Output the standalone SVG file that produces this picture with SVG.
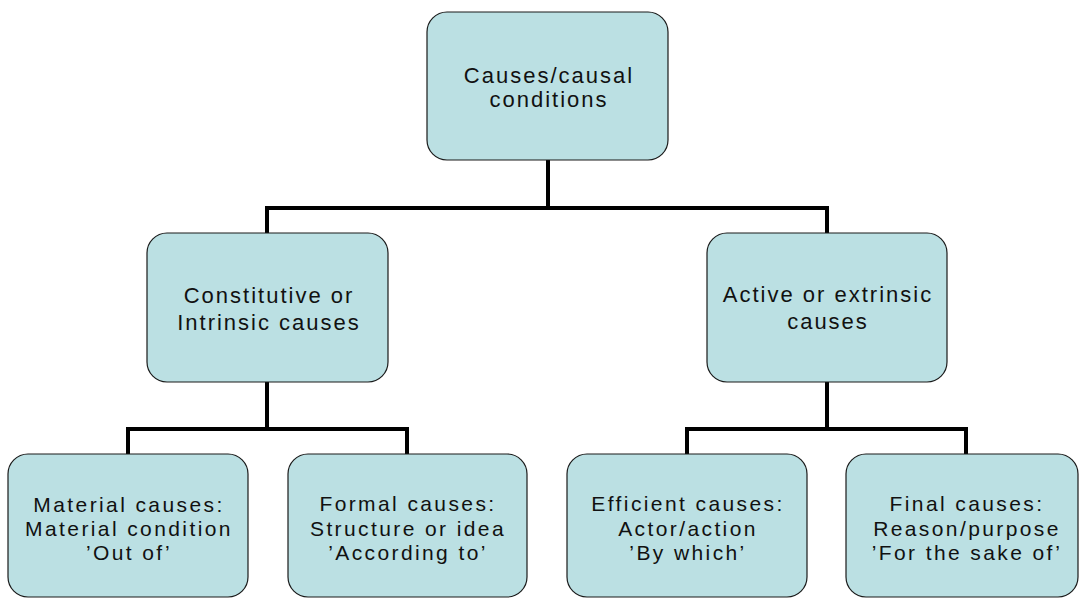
<svg xmlns="http://www.w3.org/2000/svg" width="1079" height="599" viewBox="0 0 1079 599">
<style>
.box{fill:#BBE0E3;stroke:#1a1a1a;stroke-width:1.2}
.t{font-family:"Liberation Sans",Arial,sans-serif;font-size:22px;letter-spacing:2px;fill:#111;text-anchor:middle}
.b{font-size:21px;letter-spacing:2.4px}
.c{fill:none;stroke:#000;stroke-width:4;stroke-linejoin:miter;stroke-linecap:butt}
</style>
<rect width="1079" height="599" fill="#fff"/>
<g id="connectors">
<path class="c" d="M548 160 V208 M267 233 V208 H827 V233"/>
<path class="c" d="M267 382 V429 M128 454 V429 H407 V454"/>
<path class="c" d="M827 382 V429 M687 454 V429 H966 V454"/>
</g>
<g id="root">
<rect class="box" x="427" y="12" width="241" height="148" rx="20"/>
<text class="t" x="549" y="83">Causes/causal</text>
<text class="t" x="549" y="107">conditions</text>
</g>
<g id="constitutive">
<rect class="box" x="147" y="233" width="241" height="149" rx="20"/>
<text class="t" x="269" y="303">Constitutive or</text>
<text class="t" x="269" y="330">Intrinsic causes</text>
</g>
<g id="active">
<rect class="box" x="707" y="233" width="240" height="149" rx="20"/>
<text class="t" x="828" y="302">Active or extrinsic</text>
<text class="t" x="828" y="329">causes</text>
</g>
<g id="material">
<rect class="box" x="8" y="454" width="240" height="143" rx="20"/>
<text class="t b" x="129" y="512">Material causes:</text>
<text class="t b" x="129" y="536">Material condition</text>
<text class="t b" x="129" y="560">’Out of’</text>
</g>
<g id="formal">
<rect class="box" x="288" y="454" width="239" height="143" rx="20"/>
<text class="t b" x="408" y="511">Formal causes:</text>
<text class="t b" x="408" y="536">Structure or idea</text>
<text class="t b" x="408" y="560">’According to’</text>
</g>
<g id="efficient">
<rect class="box" x="567" y="454" width="240" height="143" rx="20"/>
<text class="t b" x="688" y="511">Efficient causes:</text>
<text class="t b" x="688" y="536">Actor/action</text>
<text class="t b" x="688" y="560">’By which’</text>
</g>
<g id="final">
<rect class="box" x="846" y="454" width="232" height="143" rx="20"/>
<text class="t b" x="967" y="511">Final causes:</text>
<text class="t b" x="967" y="536">Reason/purpose</text>
<text class="t b" x="967" y="560">’For the sake of’</text>
</g>
</svg>
